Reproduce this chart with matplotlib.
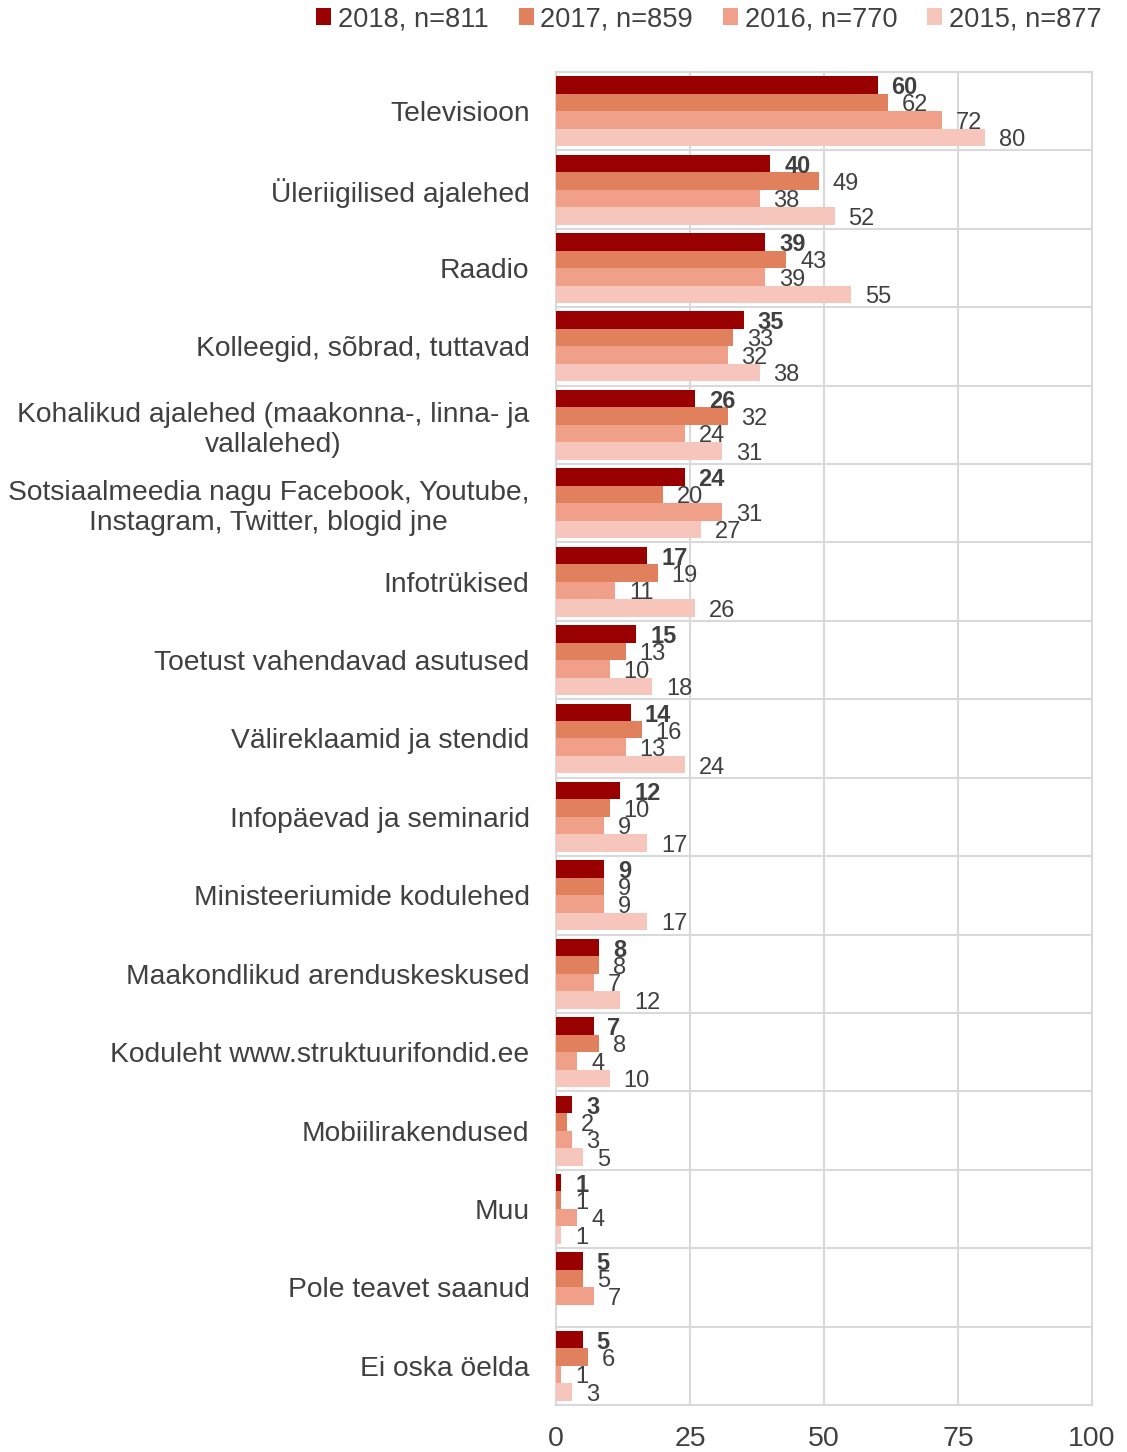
import numpy as np
import matplotlib
matplotlib.use("Agg")
import matplotlib.pyplot as plt
from matplotlib.patches import Patch

plt.rcParams['font.family'] = ['Liberation Sans', 'DejaVu Sans']

categories = [
    "Televisioon",
    "Üleriigilised ajalehed",
    "Raadio",
    "Kolleegid, sõbrad, tuttavad",
    "Kohalikud ajalehed (maakonna-, linna- ja\nvallalehed)",
    "Sotsiaalmeedia nagu Facebook, Youtube,\nInstagram, Twitter, blogid jne",
    "Infotrükised",
    "Toetust vahendavad asutused",
    "Välireklaamid ja stendid",
    "Infopäevad ja seminarid",
    "Ministeeriumide kodulehed",
    "Maakondlikud arenduskeskused",
    "Koduleht www.struktuurifondid.ee",
    "Mobiilirakendused",
    "Muu",
    "Pole teavet saanud",
    "Ei oska öelda",
]

series_names = ["2018, n=811", "2017, n=859", "2016, n=770", "2015, n=877"]
v2018 = [60, 40, 39, 35, 26, 24, 17, 15, 14, 12, 9, 8, 7, 3, 1, 5, 5]
v2017 = [62, 49, 43, 33, 32, 20, 19, 13, 16, 10, 9, 8, 8, 2, 1, 5, 6]
v2016 = [72, 38, 39, 32, 24, 31, 11, 10, 13, 9, 9, 7, 4, 3, 4, 7, 1]
v2015 = [80, 52, 55, 38, 31, 27, 26, 18, 24, 17, 17, 12, 10, 5, 1, np.nan, 3]
series = [v2018, v2017, v2016, v2015]
colors = ["#990000", "#E0805C", "#F0A088", "#F6C6BC"]

xticks = [0, 25, 50, 75, 100]

fig = plt.figure(figsize=(11.27, 14.52), dpi=100)
ax = fig.add_axes([556/1127, 1 - 1405/1452, (1092-556)/1127, (1405-72)/1452])

n = len(categories)
y = np.arange(n)
h = 0.223
text_color = "#404040"
for k, (vals, col) in enumerate(zip(series, colors)):
    offs = (k - 1.5) * h
    vals = np.array(vals, dtype=float)
    ax.barh(y + offs, vals, height=h, color=col, zorder=3)
    for yi, v in zip(y, vals):
        if np.isnan(v):
            continue
        ax.annotate(f"{int(v)}", xy=(v, yi + offs), xytext=(10, -2),
                    textcoords="offset points", ha="left", va="center",
                    fontsize=17, color=text_color,
                    fontweight="bold" if k == 0 else "normal", zorder=4)

ax.set_xlim(0, 100)
ax.set_ylim(n - 0.5, -0.5)
ax.set_xticks(xticks)
ax.set_xticklabels([str(t) for t in xticks])
ax.set_yticks(y)
ax.set_yticklabels(categories, multialignment="center")
ax.tick_params(axis="both", length=0, colors=text_color)
ax.tick_params(axis="y", pad=19, labelsize=20.3)
ax.tick_params(axis="x", pad=15, labelsize=20.5)

ax.grid(axis="x", color="#d9d9d9", linewidth=1.5, zorder=0)
for b in np.arange(0.5, n - 0.5, 1):
    ax.axhline(b, color="#d9d9d9", linewidth=1.5, zorder=0)
for s in ax.spines.values():
    s.set_color("#d9d9d9")
    s.set_linewidth(1.5)

handles = [Patch(facecolor=c, edgecolor="none") for c in colors]
fig.legend(handles, series_names, loc="center", bbox_to_anchor=(709/1127, 1 - 19/1452),
           ncol=4, frameon=False, fontsize=19.6, handlelength=0.55, handleheight=0.55,
           handletextpad=0.25, columnspacing=1.1, labelcolor=text_color)

fig.savefig("out.png", dpi=100)
